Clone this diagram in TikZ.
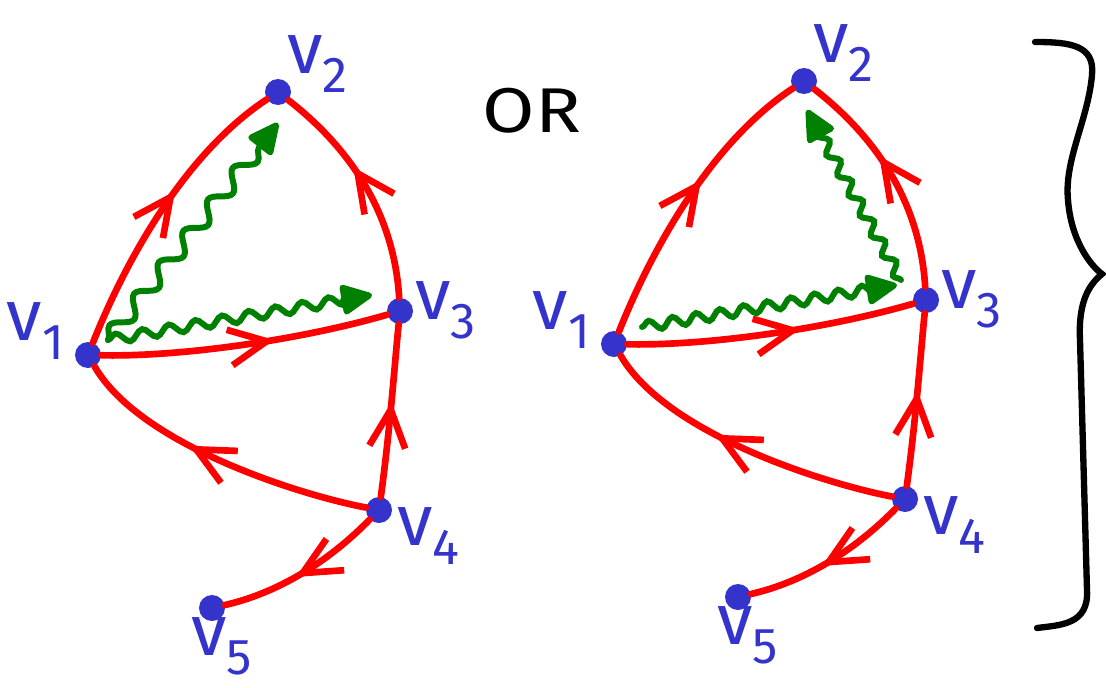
\documentclass[tikz,border=0pt]{standalone}
\usepackage{fontspec}
\setsansfont{Fira Sans}
\usetikzlibrary{arrows.meta, decorations.markings, decorations.pathmorphing, calc}

\definecolor{edgered}{RGB}{255,0,0}
\definecolor{dotblue}{RGB}{52,52,204}
\definecolor{wavegreen}{RGB}{0,128,0}

\begin{document}
\begin{tikzpicture}[x=0.02cm, y=-0.02cm,
        dot/.style={circle, fill=dotblue, minimum size=0.52cm, inner sep=0pt},
        vlabel/.style={text=dotblue, inner sep=0pt, font=\sffamily\fontsize{41}{41}\selectfont},
        edge/.style={edgered, line width=3.8pt, line cap=round},
        midarrow/.style={postaction={decorate}, decoration={markings,
            mark=at position #1 with {\arrow{Straight Barb[length=0.75cm, width=0.72cm]}}}},
        wave/.style 2 args={wavegreen, line width=3.4pt, line cap=round,
            -{Triangle[length=0.7cm, width=0.64cm, round]}, decorate,
            decoration={snake, amplitude=#1, segment length=#2, post length=0.3cm}},
        bracestroke/.style={black, line width=3.6pt, line cap=round}]
        \useasboundingbox (0,0) rectangle (1106,687);
        % the same graph twice, the second one shifted to the right
        \foreach \g/\sx/\sy in {a/0/0, b/526/-11} {
            \begin{scope}[shift={(\sx,\sy)}]
                \foreach \i/\x/\y/\lx/\ly in {1/88/355/-52/-24, 2/278/92/40/-28, 3/400/311/46/-1, 4/379/510/50/26, 5/212/608/10/38} {
                    \node[dot] (\g\i) at (\x,\y) {};
                    \node[vlabel] (\g lab\i) at ($(\g\i)+(\lx,\ly)$) {v\textsubscript{\i}};
                }
                \foreach \s/\t/\ax/\ay/\bx/\by/\p in {1/2/130/250/190/150/0.57, 3/2/395/230/365/160/0.6,
                        1/3/180/357/300/340/0.6, 4/3/390/430/395/360/0.55,
                        4/1/300/495/140/445/0.6, 4/5/340/550/290/590/0.55}
                    \draw[edge, midarrow=\p] (\g\s) .. controls (\ax,\ay) and (\bx,\by) .. (\g\t);
            \end{scope}
        }
        % wavy paths
        \coordinate (a1w) at (108,340);
        \coordinate (a2w) at (278,123);
        \coordinate (a3w) at (372,295);
        \coordinate (b1w) at (642,327);
        \coordinate (b3w) at (897,285);
        \coordinate (b3s) at (901,280);
        \coordinate (b2w) at (807,110);
        \draw[wave={0.16cm}{0.8cm}] (a1w) -- (a2w);
        \draw[wave={0.1cm}{0.54cm}] (a1w) -- (a3w);
        \draw[wave={0.1cm}{0.48cm}] (b1w) -- (b3w);
        \draw[wave={0.1cm}{0.46cm}] (b3s) -- (b2w);
        \node[font=\sffamily\fontsize{36}{36}\selectfont, xscale=1.2, inner sep=0pt] (or) at (532,111) {OR};
        % the brace
        \draw[bracestroke] (1035,42) .. controls (1070,42) and (1095,45) .. (1092,75)
            .. controls (1088,120) and (1064,160) .. (1068,200)
            .. controls (1071,240) and (1090,265) .. (1102,274)
            .. controls (1090,284) and (1078,300) .. (1080,340)
            -- (1087,590) .. controls (1089,625) and (1060,625) .. (1037,628);
    \end{tikzpicture}
\end{document}
